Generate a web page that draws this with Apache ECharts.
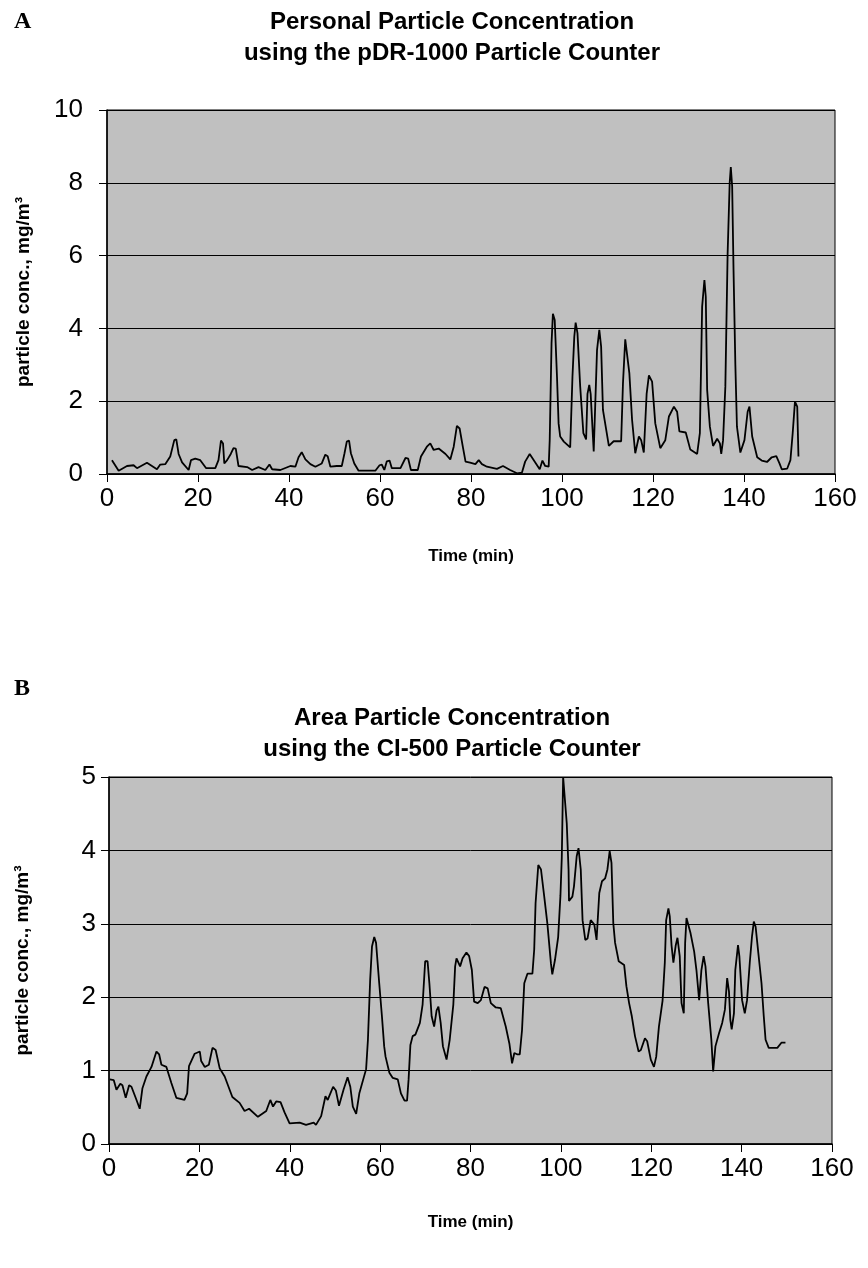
<!DOCTYPE html>
<html>
<head>
<meta charset="utf-8">
<script src="https://cdn.jsdelivr.net/npm/echarts@6/dist/echarts.min.js"></script>
<style>
html,body{margin:0;padding:0;background:#fff;}
#chart{width:868px;height:1268px;}
</style>
</head>
<body>
<div id="chart"></div>
<script>
// ---- Data ----
const xTicks = [0, 20, 40, 60, 80, 100, 120, 140, 160];
const personalYTicks = [0, 2, 4, 6, 8, 10];
const areaYTicks = [0, 1, 2, 3, 4, 5];

const personalTime = [1.09,2.56,4.39,5.85,6.59,8.78,10.98,11.7,12.8,13.9,14.79,15.23,15.74,16.5,17.94,18.46,19.4,20.5,21.8,23.8,24.5,25.05,25.5,25.78,26.4,27.2,27.8,28.3,28.9,30.8,31.9,33.3,34.8,35.7,36.3,38.1,40.3,41.4,42.1,42.8,43.6,44.7,45.8,47.2,47.98,48.5,49.1,50.5,51.6,52.2,52.7,53.2,53.6,54.35,55.3,58.97,59.9,60.4,60.95,61.5,62.1,62.6,64.5,65.6,66.2,66.8,68.3,69.0,70.3,71.05,71.8,72.9,74.4,75.45,76.2,76.9,77.5,78.2,78.8,79.8,80.97,81.7,82.4,83.5,85.7,87.03,88.6,90.1,91.2,91.9,92.9,93.8,95.1,95.7,96.3,97.07,97.3,97.7,98.0,98.4,98.9,99.25,99.6,100.4,101.8,102.3,102.7,103.0,103.4,104.0,104.7,105.3,105.6,105.99,106.3,106.97,107.7,108.2,108.6,109.0,110.3,111.35,113.0,113.4,113.9,114.3,114.8,115.4,116.1,116.9,117.4,117.98,118.6,119.1,119.8,120.5,121.6,122.7,123.5,124.6,125.3,125.8,127.2,128.2,129.7,130.3,130.8,131.3,131.6,131.9,132.5,133.2,134.1,134.7,135.0,135.4,135.9,136.4,136.85,137.1,137.4,137.7,138.1,138.45,139.2,140.1,140.8,141.2,141.8,142.9,143.9,145.05,146.1,147.1,147.8,148.3,149.5,150.2,150.7,151.2,151.7,151.97];
const personalConc = [0.38,0.09,0.22,0.24,0.16,0.31,0.13,0.26,0.27,0.48,0.93,0.95,0.55,0.32,0.11,0.38,0.42,0.38,0.16,0.16,0.38,0.92,0.84,0.29,0.38,0.55,0.71,0.70,0.22,0.19,0.11,0.19,0.11,0.26,0.13,0.11,0.22,0.20,0.46,0.60,0.40,0.27,0.20,0.29,0.53,0.49,0.20,0.22,0.22,0.57,0.89,0.92,0.57,0.29,0.09,0.09,0.24,0.26,0.11,0.35,0.37,0.16,0.16,0.44,0.42,0.11,0.11,0.48,0.75,0.84,0.66,0.70,0.55,0.40,0.75,1.32,1.25,0.75,0.34,0.31,0.27,0.38,0.27,0.20,0.14,0.22,0.11,0.02,0.04,0.34,0.55,0.38,0.13,0.37,0.22,0.20,0.93,3.59,4.40,4.23,2.67,1.39,1.03,0.89,0.73,2.67,3.77,4.16,3.87,2.40,1.12,0.95,2.20,2.45,2.20,0.62,3.41,3.96,3.50,1.76,0.77,0.90,0.90,2.49,3.70,3.72,2.77,1.49,0.57,1.03,0.93,0.59,2.20,2.71,2.54,1.39,0.71,0.93,1.58,1.85,1.71,1.17,1.14,0.67,0.55,1.12,4.60,5.33,4.87,2.31,1.30,0.77,0.97,0.84,0.55,0.93,2.40,6.06,7.99,8.43,7.90,5.60,3.00,1.30,0.59,0.93,1.71,1.85,1.03,0.46,0.37,0.33,0.46,0.49,0.29,0.13,0.15,0.38,1.12,1.99,1.85,0.48];

const areaTime = [0.18,1.06,1.65,2.5,2.97,3.7,4.45,4.97,5.9,6.8,7.4,8.28,9.4,10.5,11.1,11.6,12.7,13.8,14.9,16.7,17.3,17.7,18.96,20.1,20.4,21.2,22.1,22.9,23.6,24.5,25.6,27.3,28.9,30.0,31.0,32.96,34.8,35.7,36.3,37.0,37.96,38.85,39.96,42.2,43.6,45.3,45.8,46.95,47.9,48.4,49.6,50.2,50.9,51.9,52.8,53.4,53.96,54.7,55.4,56.9,57.3,57.8,58.2,58.7,59.1,59.8,60.4,60.9,61.2,62.05,62.8,63.9,64.6,65.4,65.96,66.3,66.7,67.2,67.8,68.8,69.4,69.97,70.5,70.9,71.4,71.95,72.5,72.9,73.4,73.9,74.7,75.4,76.2,76.6,76.9,77.7,78.25,79.1,79.7,80.3,80.8,81.6,82.3,83.1,83.8,84.5,85.6,86.7,87.1,87.8,88.6,89.2,89.7,90.4,90.9,91.4,91.9,92.6,93.7,94.1,94.4,95.0,95.6,96.3,97.0,97.8,98.1,98.7,99.4,99.9,100.2,100.5,100.9,101.3,101.7,101.8,102.55,102.9,103.5,103.9,104.4,104.8,105.4,105.9,106.6,107.4,107.9,108.5,109.1,109.8,110.3,110.8,111.2,111.6,112.0,112.8,114.0,114.5,115.1,115.7,116.4,117.2,117.7,118.6,119.1,119.9,120.6,121.1,121.7,122.5,123.0,123.3,123.8,124.1,124.5,124.9,125.4,125.8,126.3,126.7,127.2,127.5,127.8,128.2,128.7,129.5,130.0,130.6,131.1,131.6,132.0,132.6,133.3,133.7,134.2,135.0,135.7,136.3,136.8,137.2,137.5,137.8,138.3,138.6,139.2,139.5,140.1,140.7,141.2,141.8,142.3,142.7,143.1,143.7,144.4,144.9,145.3,146.0,147.9,148.8,149.7];
const areaConc = [0.88,0.87,0.74,0.82,0.80,0.63,0.80,0.78,0.63,0.48,0.76,0.92,1.05,1.26,1.22,1.08,1.05,0.83,0.63,0.60,0.69,1.06,1.23,1.26,1.13,1.05,1.08,1.31,1.28,1.03,0.92,0.64,0.56,0.45,0.48,0.37,0.45,0.60,0.51,0.58,0.57,0.43,0.28,0.29,0.26,0.29,0.26,0.38,0.65,0.60,0.78,0.73,0.52,0.74,0.91,0.78,0.51,0.41,0.69,1.02,1.42,2.24,2.69,2.82,2.74,2.19,1.74,1.33,1.19,0.97,0.90,0.88,0.69,0.59,0.59,0.88,1.35,1.47,1.49,1.65,1.90,2.49,2.49,2.19,1.74,1.60,1.82,1.87,1.65,1.33,1.15,1.42,1.90,2.42,2.53,2.42,2.53,2.61,2.56,2.37,1.94,1.92,1.96,2.14,2.12,1.92,1.86,1.85,1.83,1.60,1.37,1.10,1.24,1.22,1.22,1.55,2.19,2.32,2.32,2.65,3.28,3.80,3.74,3.38,3.01,2.46,2.31,2.51,2.82,3.38,3.90,5.00,5.00,4.37,3.74,3.31,3.37,3.51,3.92,4.03,3.74,3.05,2.78,2.80,3.05,2.99,2.78,3.42,3.58,3.62,3.74,3.99,3.83,3.01,2.74,2.49,2.44,2.15,1.92,1.74,1.47,1.26,1.28,1.44,1.40,1.15,1.05,1.19,1.60,1.95,2.47,3.05,3.21,3.10,2.70,2.47,2.70,2.81,2.56,1.92,1.78,2.74,3.08,3.08,2.87,2.62,2.37,1.96,2.37,2.56,2.42,1.92,1.42,0.99,1.33,1.51,1.65,1.83,2.26,2.08,1.69,1.56,1.78,2.37,2.71,2.56,1.96,1.78,1.96,2.47,2.83,3.03,2.96,2.60,2.19,1.74,1.42,1.31,1.31,1.38,1.38];

const personalTitle = 'Personal Particle Concentration\nusing the pDR-1000 Particle Counter';
const areaTitle = 'Area Particle Concentration\nusing the CI-500 Particle Counter';
const xName = 'Time (min)';
const yName = 'particle conc., mg/m\u00B3';

// ---- Build ----
const pair = (xs, ys) => xs.map((x, i) => [x, ys[i]]);
const SANS = '"Liberation Sans", Arial, sans-serif';
const SERIF = '"Liberation Serif", "Times New Roman", serif';

function xAxisCfg(gridIndex, gap) {
  return {
    type: 'value', gridIndex, min: xTicks[0], max: xTicks[xTicks.length - 1], interval: xTicks[1] - xTicks[0],
    name: xName, nameLocation: 'middle', nameGap: gap,
    nameTextStyle: { fontFamily: SANS, fontWeight: 'bold', fontSize: 17, color: '#000' },
    axisLine: { show: true, onZero: false, lineStyle: { color: '#000', width: 1.5 } },
    axisTick: { show: true, inside: false, length: 8, lineStyle: { color: '#000', width: 1 } },
    axisLabel: { fontFamily: SANS, fontSize: 26, color: '#000', margin: 12 },
    splitLine: { show: false }
  };
}
function yAxisCfg(gridIndex, ticks, gap, margin) {
  return {
    type: 'value', gridIndex, min: ticks[0], max: ticks[ticks.length - 1], interval: ticks[1] - ticks[0],
    name: yName, nameLocation: 'middle', nameGap: gap, nameRotate: 90,
    nameTextStyle: { fontFamily: SANS, fontWeight: 'bold', fontSize: 19, color: '#000' },
    axisLine: { show: true, lineStyle: { color: '#000', width: 1.5 } },
    axisTick: { show: true, inside: false, length: 8, lineStyle: { color: '#000', width: 1 } },
    axisLabel: { fontFamily: SANS, fontSize: 26, color: '#000', margin: margin },
    splitLine: { show: true, lineStyle: { color: '#000', width: 1 } }
  };
}

const chart = echarts.init(document.getElementById('chart'), null, { renderer: 'canvas' });
chart.setOption({
  backgroundColor: '#fff',
  animation: false,
  grid: [
    { left: 107, top: 110, width: 728, height: 364, show: true, backgroundColor: '#c0c0c0', borderColor: '#000', borderWidth: 1 },
    { left: 109, top: 777, width: 723, height: 367, show: true, backgroundColor: '#c0c0c0', borderColor: '#000', borderWidth: 1 }
  ],
  xAxis: [xAxisCfg(0, 74), xAxisCfg(1, 70)],
  yAxis: [yAxisCfg(0, personalYTicks, 74, 24), yAxisCfg(1, areaYTicks, 77, 13)],
  graphic: [
    { type: 'text', left: 14, top: 10, style: { text: 'A', font: 'bold 24px ' + SERIF, fill: '#000' } },
    { type: 'text', left: 14, top: 677, style: { text: 'B', font: 'bold 24px ' + SERIF, fill: '#000' } },
    { type: 'text', x: 452, y: 7, style: { text: personalTitle, font: 'bold 24px ' + SANS, fill: '#000', textAlign: 'center', lineHeight: 31 } },
    { type: 'text', x: 452, y: 703, style: { text: areaTitle, font: 'bold 24px ' + SANS, fill: '#000', textAlign: 'center', lineHeight: 31 } }
  ],
  series: [
    { type: 'line', xAxisIndex: 0, yAxisIndex: 0, data: pair(personalTime, personalConc), showSymbol: false, symbol: 'none', smooth: false, clip: true, lineStyle: { color: '#000', width: 1.8 } },
    { type: 'line', xAxisIndex: 1, yAxisIndex: 1, data: pair(areaTime, areaConc), showSymbol: false, symbol: 'none', smooth: false, clip: true, lineStyle: { color: '#000', width: 1.8 } }
  ]
});
</script>
</body>
</html>
